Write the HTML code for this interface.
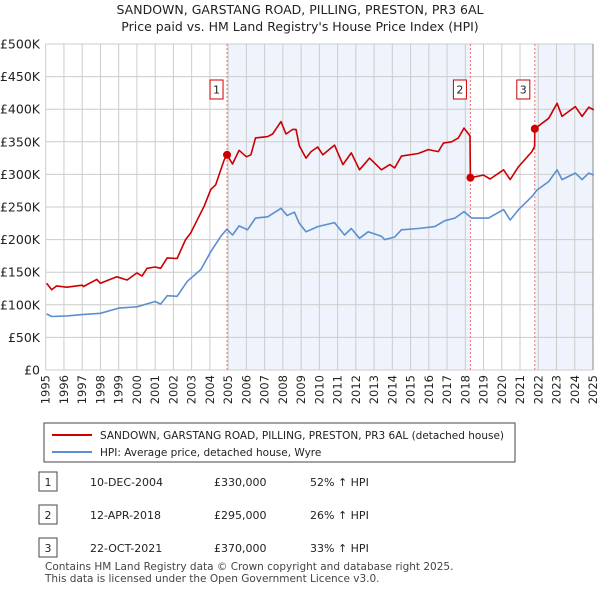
<!DOCTYPE html>
<html><head><meta charset="utf-8"><style>
body{margin:0;background:#fff;font-family:"Liberation Sans",sans-serif;}
svg text{font-family:"DejaVu Sans","Liberation Sans",sans-serif;}
</style></head><body>
<svg id="c" width="600" height="590" viewBox="0 0 600 590" xmlns="http://www.w3.org/2000/svg">
<text x="300" y="14" text-anchor="middle" font-size="12.5" fill="#222">SANDOWN, GARSTANG ROAD, PILLING, PRESTON, PR3 6AL</text>
<text x="300" y="31" text-anchor="middle" font-size="12.5" fill="#222">Price paid vs. HM Land Registry's House Price Index (HPI)</text>
<g id="plot"></g>
<rect x="44" y="423" width="471" height="39" fill="#fff" stroke="#444" stroke-width="1"/>
<line x1="52" y1="435" x2="92" y2="435" stroke="#cc0000" stroke-width="2"/>
<text x="100" y="439" font-size="10.5" fill="#222">SANDOWN, GARSTANG ROAD, PILLING, PRESTON, PR3 6AL (detached house)</text>
<line x1="52" y1="452" x2="92" y2="452" stroke="#5b8fd0" stroke-width="2"/>
<text x="100" y="456" font-size="10.5" fill="#222">HPI: Average price, detached house, Wyre</text>
<g id="tbl"></g>
<text x="45" y="570" font-size="10.5" fill="#444">Contains HM Land Registry data © Crown copyright and database right 2025.</text>
<text x="45" y="582" font-size="10.5" fill="#444">This data is licensed under the Open Government Licence v3.0.</text>
</svg>
<script>
const hpiYears=[1995.05,1995.33,1996.16,1997.0,1998.0,1999.0,2000.0,2001.0,2001.3,2001.66,2002.2,2002.76,2003.5,2004.06,2004.6,2004.93,2005.24,2005.6,2006.06,2006.5,2007.17,2007.9,2008.23,2008.63,2008.9,2009.27,2009.91,2010.83,2011.38,2011.75,2012.2,2012.67,2013.4,2013.58,2014.13,2014.5,2015.42,2016.33,2016.88,2017.43,2017.93,2018.35,2019.27,2020.1,2020.46,2020.92,2021.65,2021.93,2022.57,2023.03,2023.3,2024.03,2024.4,2024.77,2025.05];
const hpiValues=[86,82,83,85,87,95,97,105,101,114,113,136,154,182,205,216,207,221,215,233,235,248,237,242,225,212,220,226,207,217,202,212,205,200,204,215,217,220,229,233,243,233,233,246,230,246,266,276,289,307,292,302,292,302,299];
const redYears=[1995.05,1995.33,1995.6,1996.16,1997.0,1997.07,1997.8,1998.0,1998.9,1999.46,2000.0,2000.28,2000.56,2001.0,2001.3,2001.66,2002.2,2002.67,2002.94,2003.68,2004.05,2004.32,2004.78,2004.94,2005.24,2005.6,2006.0,2006.25,2006.5,2007.17,2007.44,2007.9,2008.17,2008.54,2008.72,2008.9,2009.27,2009.55,2009.91,2010.19,2010.83,2011.29,2011.75,2012.2,2012.75,2013.4,2013.86,2014.13,2014.5,2015.42,2015.97,2016.52,2016.8,2017.25,2017.62,2017.93,2018.26,2018.28,2018.99,2019.36,2020.1,2020.46,2020.92,2021.65,2021.8,2021.81,2022.57,2023.03,2023.3,2024.03,2024.4,2024.77,2025.05];
const redValues=[133,123,129,127,130,128,139,133,143,138,149,144,156,158,156,172,171,200,210,251,277,284,322,330,316,337,327,330,356,358,362,381,362,369,369,344,325,335,342,330,345,315,333,307,325,307,315,310,328,332,338,335,348,350,356,371,359,295,299,293,307,292,312,335,343,370,386,409,389,404,389,403,399];
const saleYears=[2004.94,2018.28,2021.81];
const salePrices=[330,295,370];
const saleDates=["10-DEC-2004","12-APR-2018","22-OCT-2021"];
const saleLabels=["£330,000","£295,000","£370,000"];
const saleHpi=["52% ↑ HPI","26% ↑ HPI","33% ↑ HPI"];
const yTicks=[0,50,100,150,200,250,300,350,400,450,500];
const yTickLabels=["£0","£50K","£100K","£150K","£200K","£250K","£300K","£350K","£400K","£450K","£500K"];
const xTicks=[1995,1996,1997,1998,1999,2000,2001,2002,2003,2004,2005,2006,2007,2008,2009,2010,2011,2012,2013,2014,2015,2016,2017,2018,2019,2020,2021,2022,2023,2024,2025];

const NS="http://www.w3.org/2000/svg";
const X0=45.7,X1=593,Y0=370,Y1=44;
const xs=y=>X0+(y-1995)/30*(X1-X0);
const ys=v=>Y0-v/500*(Y0-Y1);
const plot=document.getElementById('plot');
function mk(tag,attrs,parent){const e=document.createElementNS(NS,tag);for(const k in attrs)e.setAttribute(k,attrs[k]);(parent||plot).appendChild(e);return e;}
let e;
e=mk('rect',{x:xs(saleYears[0]),y:Y1,width:xs(saleYears[1])-xs(saleYears[0]),height:Y0-Y1,fill:'#eef3fc'});


e=mk('rect',{x:xs(saleYears[2]),y:Y1,width:X1-xs(saleYears[2]),height:Y0-Y1,fill:'#eef3fc'});


xTicks.forEach((t,i)=>{
 e=mk('line',{x1:xs(t),x2:xs(t),y1:Y1,y2:Y0,stroke:'#cccccc','stroke-width':1});
 
 
 const tx=xs(t)+4,ty=375;
 e=mk('text',{x:tx,y:ty,'text-anchor':'end','font-size':11.5,fill:'#222',transform:'rotate(-90 '+tx+' '+ty+')'});
 e.textContent=t;
 
 
});
yTicks.forEach((t,i)=>{
 e=mk('line',{x1:X0,x2:X1,y1:ys(t),y2:ys(t),stroke:'#cccccc','stroke-width':1});
 
 
 e=mk('text',{x:40,y:ys(t)+4.5,'text-anchor':'end','font-size':12.5,fill:'#222'});
 e.textContent=yTickLabels[i];
 
 
});
e=mk('line',{x1:X1,x2:X1,y1:Y1,y2:Y0,stroke:'#888','stroke-width':1});


saleYears.forEach((s,i)=>{
 e=mk('line',{x1:xs(s),x2:xs(s),y1:Y1,y2:Y0,stroke:'#f07070','stroke-width':1,'stroke-dasharray':'2,2'});
 
 
});
function line(xa,va,col,name){
 const d=xa.map((x,i)=>(i?'L':'M')+xs(x).toFixed(1)+' '+ys(va[i]).toFixed(1)).join(' ');
 const p=mk('path',{d:d,fill:'none',stroke:col,'stroke-width':1.6,'stroke-linejoin':'round'});
 
 
}
line(hpiYears,hpiValues,'#5b8fd0','hpi-line');
line(redYears,redValues,'#cc0000','price-paid-line');
saleYears.forEach((s,i)=>{
 e=mk('circle',{cx:xs(s),cy:ys(salePrices[i]),r:4,fill:'#cc0000'});
 
 
 e=mk('rect',{x:xs(s)-(i==2?18:17),y:80,width:13,height:19,fill:'#fff',stroke:'#cc0000'});
 
 
 e=mk('text',{x:xs(s)-(i==2?11.5:10.5),y:93.5,'text-anchor':'middle','font-size':11,fill:'#222'});
 e.textContent=i+1;
 
 
});
const tbl=document.getElementById('tbl');
const rowY=[482,515,548];
saleDates.forEach((d,i)=>{
 const y=rowY[i];
 e=mk('rect',{x:39,y:y-10,width:18,height:19,fill:'#fff',stroke:'#444'},tbl);
 
 
 e=mk('text',{x:48,y:y+4,'text-anchor':'middle','font-size':11,fill:'#222'},tbl);
 e.textContent=i+1;
 
 
 e=mk('text',{x:90,y:y+4,'font-size':11,fill:'#222'},tbl);
 e.textContent=d;
 
 
 e=mk('text',{x:214,y:y+4,'font-size':11,fill:'#222'},tbl);
 e.textContent=saleLabels[i];
 
 
 e=mk('text',{x:310,y:y+4,'font-size':11,fill:'#222'},tbl);
 e.textContent=saleHpi[i];
 
 
});
</script>
</body></html>
